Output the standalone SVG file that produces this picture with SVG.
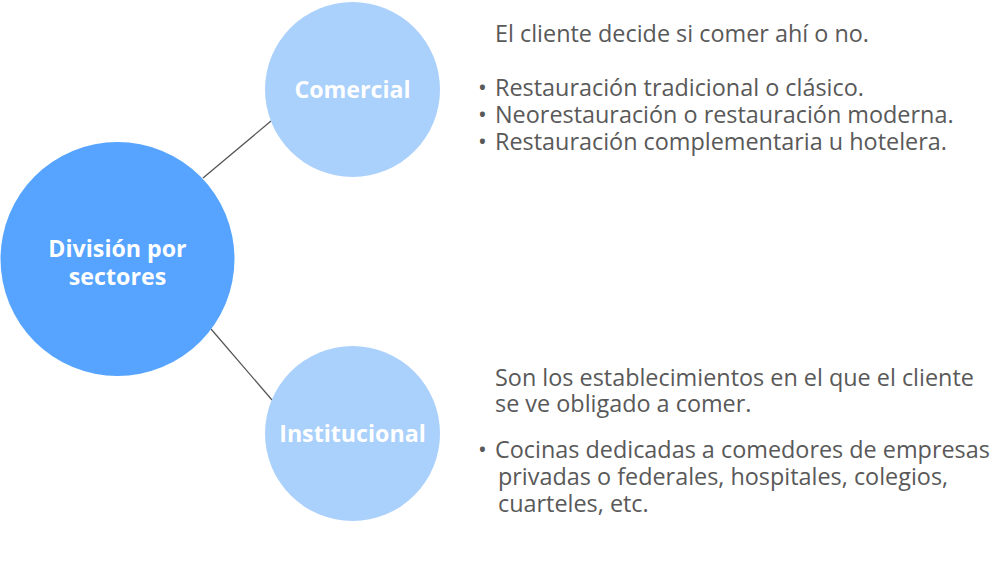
<svg xmlns="http://www.w3.org/2000/svg" width="1000" height="576" viewBox="0 0 1000 576">
<style>
.lbl{font-family:"Open Sans","Liberation Sans",sans-serif;font-weight:bold;font-size:23.2px;fill:#ffffff;text-anchor:middle}
.txt{font-family:"Open Sans","Liberation Sans",sans-serif;font-size:23.4px;fill:#595959}
.conn{stroke:#555555;stroke-width:1.3;fill:none}
</style>
<rect width="1000" height="576" fill="#ffffff"/>
<g id="connectors">
<line class="conn" x1="203" y1="178" x2="271" y2="121"/>
<line class="conn" x1="211" y1="329" x2="272" y2="400"/>
</g>
<g id="node-division">
<circle cx="117.5" cy="259" r="117" fill="#56A4FF"/>
<text class="lbl" x="117.5" y="257">División por</text>
<text class="lbl" x="117.5" y="285">sectores</text>
</g>
<g id="node-comercial">
<circle cx="352.5" cy="89.5" r="87.5" fill="#AAD0FC"/>
<text class="lbl" x="352.5" y="98">Comercial</text>
</g>
<g id="node-institucional">
<circle cx="352.5" cy="433.5" r="87.5" fill="#AAD0FC"/>
<text class="lbl" x="352.5" y="442">Institucional</text>
</g>
<g id="text-comercial">
<text class="txt" x="495" y="42">El cliente decide si comer ahí o no.</text>
<text class="txt" x="478" y="96">•<tspan x="495">Restauración tradicional o clásico.</tspan></text>
<text class="txt" x="478" y="123">•<tspan x="495">Neorestauración o restauración moderna.</tspan></text>
<text class="txt" x="478" y="150">•<tspan x="495">Restauración complementaria u hotelera.</tspan></text>
</g>
<g id="text-institucional">
<text class="txt" x="495" y="386">Son los establecimientos en el que el cliente</text>
<text class="txt" x="495" y="412">se ve obligado a comer.</text>
<text class="txt" x="478" y="458">•<tspan x="495">Cocinas dedicadas a comedores de empresas</tspan></text>
<text class="txt" x="498" y="485">privadas o federales, hospitales, colegios,</text>
<text class="txt" x="498" y="512">cuarteles, etc.</text>
</g>
</svg>
